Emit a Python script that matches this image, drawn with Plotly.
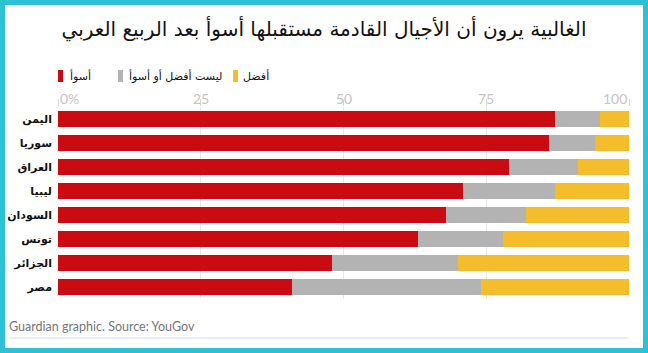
import plotly.graph_objects as go

countries = ["اليمن", "سوريا", "العراق", "ليبيا", "السودان", "تونس", "الجزائر", "مصر"]
worse = [87, 86, 79, 71, 68, 63, 48, 41]
neither = [8, 8, 12, 16, 14, 15, 22, 33]
better = [5, 6, 9, 13, 18, 22, 30, 26]
series_names = ["أسوأ", "ليست أفضل أو أسوأ", "أفضل"]
series_colors = ["#cc0a11", "#b3b3b3", "#f5bd2c"]
tick_vals = [0, 25, 50, 75, 100]
tick_text = ["0%", "25", "50", "75", "100"]
title = "الغالبية يرون أن الأجيال القادمة مستقبلها أسوأ بعد الربيع العربي"
source = "Guardian graphic. Source: YouGov"

W, H = 648, 353
L, R, T, B = 58, 19, 107, 54
PW, PH = W - L - R, H - T - B

def px(x):
    return (x - L) / PW

def py(y):
    return (H - B - y) / PH

AR = "DejaVu Sans"

fig = go.Figure()
for name, vals, col in zip(series_names, [worse, neither, better], series_colors):
    fig.add_trace(go.Bar(
        y=countries, x=vals, name=name, orientation="h",
        marker=dict(color=col, line=dict(width=0)),
        hoverinfo="x+y", showlegend=False,
    ))

# tick labels at top
for v, t in zip(tick_vals, tick_text):
    anchor = "left" if v == tick_vals[0] else ("right" if v == tick_vals[-1] else "center")
    fig.add_annotation(x=v, xref="x", y=py(98), yref="paper", text=t, showarrow=False,
                       xanchor=anchor, yanchor="middle",
                       font=dict(family="Lato", size=14, color="#c4c4c4"))

fig.add_annotation(x=px(7), xref="paper", y=py(326), yref="paper", text=source,
                   showarrow=False, xanchor="left", yanchor="middle",
                   font=dict(family="Lato", size=12.5, color="#767676"))

shapes = [
    dict(type="rect", xref="paper", yref="paper", x0=px(5), x1=px(643), y0=py(348), y1=py(5),
         fillcolor="white", line=dict(width=0), layer="below"),
    dict(type="line", xref="paper", yref="paper", x0=px(9), x1=px(629), y0=py(338), y1=py(338),
         line=dict(color="#dcdcdc", width=1), layer="above"),
]

# legend (keys + labels)
legend_key_x = [58, 118, 233]
legend_text_x = [68, 127, 241]
for kx, tx, name, col in zip(legend_key_x, legend_text_x, series_names, series_colors):
    shapes.append(dict(type="rect", xref="paper", yref="paper", x0=px(kx), x1=px(kx + 5),
                       y0=py(82), y1=py(70), fillcolor=col, line=dict(width=0), layer="above"))
    fig.add_annotation(x=px(tx), xref="paper", y=py(76), yref="paper", text=name,
                       showarrow=False, xanchor="left", yanchor="middle",
                       font=dict(family=AR, size=11, color="#121212"))

fig.update_layout(
    width=W, height=H,
    margin=dict(l=L, r=R, t=T, b=B, autoexpand=False),
    paper_bgcolor="#2ec0d4",
    plot_bgcolor="white",
    barmode="stack",
    bargap=1/3,
    shapes=shapes,
    title=dict(text=title, x=0.5, xanchor="center", xref="container", y=1 - 29 / H, yanchor="middle",
               yref="container", font=dict(family=AR, size=20, color="#121212")),
    xaxis=dict(range=[0, 100], side="top", tickvals=tick_vals, showticklabels=False,
               showgrid=True, gridcolor="rgba(225,225,225,0.8)", gridwidth=1,
               ticks="outside", ticklen=7, tickcolor="#d6d6d6", layer="above traces",
               zeroline=False, showline=False, fixedrange=True, automargin=False),
    yaxis=dict(autorange="reversed", showgrid=False, ticks="", ticklabelstandoff=5,
               tickfont=dict(family=AR, size=11, color="#121212", weight="bold"),
               fixedrange=True, automargin=False),
    showlegend=False,
)

fig.write_html("out.html")
